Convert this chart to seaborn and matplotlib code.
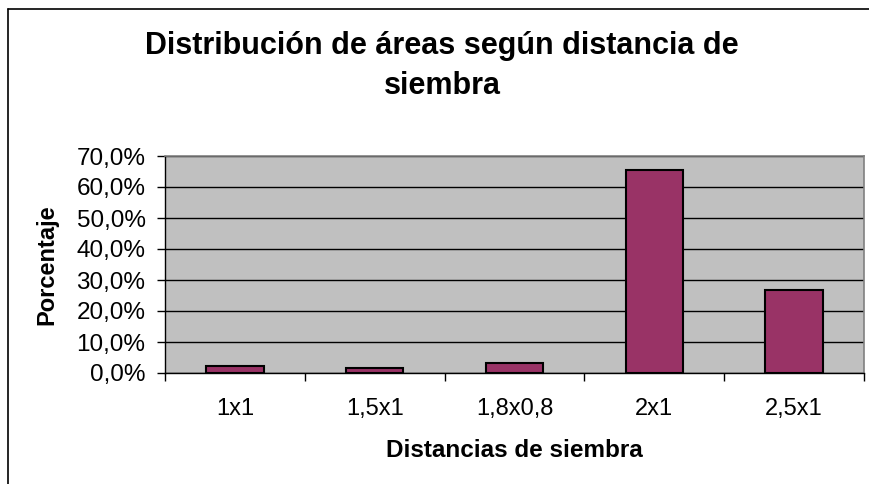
import matplotlib
matplotlib.use("Agg")
import matplotlib.pyplot as plt
import seaborn as sns
import pandas as pd
from matplotlib.lines import Line2D
from matplotlib.ticker import FuncFormatter, FixedLocator

# ------------------------------------------------------------
# Datos
# ------------------------------------------------------------

distancias = ["1x1", "1,5x1", "1,8x0,8", "2x1", "2,5x1"]
porcentaje = [2.1, 1.7, 3.3, 65.5, 26.9]

df = pd.DataFrame({"Distancia": distancias, "Porcentaje": porcentaje})

# ------------------------------------------------------------
# Figura
# ------------------------------------------------------------

sns.set_style("white")
plt.rcParams["font.family"] = ["Liberation Sans", "DejaVu Sans"]
plt.rcParams["text.color"] = "black"
plt.rcParams["axes.labelcolor"] = "black"
plt.rcParams["xtick.color"] = "black"
plt.rcParams["ytick.color"] = "black"

fig = plt.figure(figsize=(8.7, 4.84), dpi=100)
ax = fig.add_axes([165 / 870, 1 - 373 / 484, 699 / 870, 217 / 484])

sns.barplot(
    data=df,
    x="Distancia",
    y="Porcentaje",
    color="#993366",
    saturation=1,
    width=0.41,
    edgecolor="black",
    linewidth=1.5,
    ax=ax,
)

ax.set_facecolor("#C0C0C0")
ax.set_ylim(0, 70)
ax.set_xlim(-0.5, len(distancias) - 0.5)
ax.yaxis.set_major_locator(FixedLocator([0, 10, 20, 30, 40, 50, 60, 70]))
ax.yaxis.set_major_formatter(FuncFormatter(lambda v, p: f"{v:.1f}%".replace(".", ",")))
ax.grid(axis="y", color="black", linewidth=1)
ax.set_axisbelow(True)

# ticks x en los limites de categoria
ax.xaxis.set_minor_locator(FixedLocator([i + 0.5 for i in range(-1, len(distancias))]))
ax.tick_params(axis="x", which="major", bottom=True, length=0, pad=18, labelsize=17)
ax.tick_params(axis="x", which="minor", bottom=True, length=6, width=1, color="black", direction="out")
ax.tick_params(axis="y", left=True, length=6, width=1, color="black", direction="out", pad=8, labelsize=17.5)

for side in ["top", "right"]:
    ax.spines[side].set_color("#808080")
    ax.spines[side].set_linewidth(1.2)
for side in ["left", "bottom"]:
    ax.spines[side].set_color("black")
    ax.spines[side].set_linewidth(1)
    ax.spines[side].set_visible(True)

ax.set_xlabel("Distancias de siembra", fontsize=17.5, fontweight="bold")
ax.set_ylabel("Porcentaje", fontsize=17, fontweight="bold")
ax.xaxis.set_label_coords(0.5, -(439 - 373) / 217)
ax.yaxis.set_label_coords((58 - 165) / 699, 0.5)

fig.text(
    442 / 870, 1 - 66 / 484,
    "Distribución de áreas según distancia de\nsiembra",
    ha="center", va="center", fontsize=22, fontweight="bold",
    linespacing=1.4,
)

# borde del grafico
fig.add_artist(Line2D([8 / 870, 8 / 870], [0, 1 - 9 / 484], transform=fig.transFigure, color="black", linewidth=1.2))
fig.add_artist(Line2D([8 / 870, 1], [1 - 9 / 484, 1 - 9 / 484], transform=fig.transFigure, color="black", linewidth=1.2))

fig.savefig("out.png", dpi=100)
